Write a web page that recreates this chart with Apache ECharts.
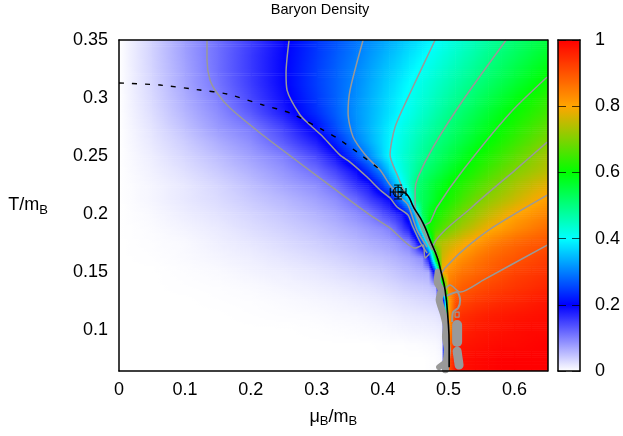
<!DOCTYPE html>
<html><head><meta charset="utf-8">
<style>html,body{margin:0;padding:0;background:#fff}#c{width:623px;height:436px}</style>
<script src="https://cdn.jsdelivr.net/npm/echarts@6/dist/echarts.min.js"></script>
</head><body><div id="c"></div>
<script>
const paletteColors = ['#ffffff','#0000ff','#00ffff','#00ff00','#ffa500','#ff0000'];
const xTickValues = [0,0.1,0.2,0.3,0.4,0.5,0.6];
const yTickValues = [0.1,0.15,0.2,0.25,0.3,0.35];
const muNodes = [0,.05,.1,.15,.2,.25,.3,.33,.36,.38,.40,.41,.42,.43,.44,.45,.46,.47,.48,.49,.50,.51,.52,.54,.56,.58,.60,.625,.65];
const tNodes = [.35,.3375,.325,.3125,.30,.2875,.275,.2625,.25,.2375,.225,.2125,.20,.1875,.175,.1625,.15,.1375,.125,.1125,.10,.0875,.075,.065];
const density = [
[0,.035,.075,.112,.15,.194,.24,.265,.292,.31,.327,.336,.345,.354,.363,.372,.381,.391,.40,.409,.419,.428,.437,.456,.475,.493,.511,.532,.553],
[0,.035,.075,.113,.155,.197,.244,.272,.298,.318,.337,.347,.356,.366,.376,.385,.395,.405,.414,.424,.433,.442,.452,.47,.49,.509,.526,.548,.57],
[0,.034,.072,.113,.155,.198,.248,.276,.305,.326,.347,.357,.367,.377,.388,.398,.408,.417,.427,.437,.447,.456,.466,.485,.505,.524,.543,.567,.59],
[0,.032,.07,.108,.153,.197,.249,.278,.309,.332,.355,.366,.377,.389,.40,.41,.42,.43,.44,.45,.46,.47,.48,.50,.52,.54,.56,.585,.61],
[0,.03,.065,.10,.145,.19,.244,.278,.313,.337,.361,.373,.385,.397,.408,.419,.43,.44,.452,.463,.474,.485,.496,.518,.54,.562,.584,.61,.635],
[0,.026,.058,.09,.13,.18,.236,.276,.317,.34,.365,.377,.389,.401,.414,.427,.44,.452,.465,.477,.49,.502,.514,.537,.56,.583,.605,.628,.652],
[0,.022,.05,.08,.105,.15,.212,.264,.313,.342,.372,.387,.402,.416,.429,.442,.455,.468,.481,.494,.506,.519,.531,.555,.578,.602,.622,.648,.676],
[0,.018,.04,.065,.09,.13,.18,.233,.30,.337,.374,.392,.41,.424,.439,.454,.469,.483,.498,.51,.522,.535,.547,.573,.598,.621,.643,.671,.70],
[0,.014,.032,.052,.075,.10,.145,.19,.26,.31,.368,.397,.415,.432,.449,.466,.483,.50,.514,.529,.543,.557,.571,.60,.623,.647,.671,.70,.73],
[0,.011,.025,.042,.062,.085,.115,.15,.195,.25,.315,.358,.40,.426,.452,.478,.504,.52,.535,.551,.567,.582,.598,.624,.65,.675,.70,.722,.745],
[0,.008,.018,.032,.05,.07,.09,.115,.16,.185,.25,.295,.35,.40,.453,.505,.525,.545,.565,.58,.60,.614,.627,.654,.681,.705,.73,.755,.78],
[0,.008,.018,.028,.042,.056,.074,.09,.118,.15,.178,.195,.248,.31,.39,.505,.53,.55,.575,.60,.617,.634,.652,.686,.712,.735,.757,.785,.81],
[0,.005,.014,.022,.033,.045,.06,.072,.09,.105,.135,.15,.165,.185,.24,.375,.53,.575,.61,.63,.65,.67,.69,.72,.75,.775,.80,.82,.84],
[0,.003,.009,.016,.026,.036,.048,.058,.07,.08,.09,.10,.12,.15,.18,.28,.45,.61,.64,.665,.69,.71,.73,.76,.79,.81,.83,.85,.87],
[0,.002,.005,.012,.019,.028,.038,.046,.055,.063,.07,.074,.08,.09,.10,.155,.25,.47,.72,.74,.755,.77,.785,.815,.84,.86,.875,.89,.90],
[0,.001,.004,.008,.013,.02,.028,.034,.042,.047,.052,.056,.06,.065,.07,.08,.09,.20,.60,.76,.79,.81,.825,.85,.87,.885,.895,.91,.925],
[0,0,.002,.004,.009,.013,.019,.024,.03,.034,.038,.042,.046,.05,.054,.058,.062,.065,.25,.80,.83,.845,.86,.875,.89,.905,.92,.93,.94],
[0,0,.001,.002,.004,.008,.012,.015,.019,.022,.026,.029,.032,.035,.038,.04,.042,.045,.055,.50,.85,.87,.885,.90,.915,.925,.935,.945,.955],
[0,0,0,.001,.002,.004,.007,.009,.012,.014,.017,.019,.021,.023,.025,.027,.029,.031,.033,.04,.80,.90,.915,.93,.94,.95,.955,.965,.975],
[0,0,0,0,.001,.002,.003,.005,.006,.008,.01,.011,.012,.014,.015,.016,.017,.018,.02,.025,.80,.93,.945,.955,.965,.97,.975,.98,.985],
[0,0,0,0,0,0,.001,.002,.003,.004,.005,.006,.007,.008,.009,.01,.01,.011,.012,.015,.80,.95,.96,.97,.975,.98,.985,.99,.99],
[0,0,0,0,0,0,0,0,0,0,.001,.001,.001,.001,.002,.002,.003,.004,.005,.01,.85,.97,.975,.98,.985,.99,.99,.995,1],
[0,0,0,0,0,0,0,0,0,0,0,0,0,0,0,0,0,.001,.002,.006,.90,.98,.985,.99,.995,1,1,1,1],
[0,0,0,0,0,0,0,0,0,0,0,0,0,0,0,0,0,.001,.003,.01,.90,.98,.985,.99,.995,1,1,1,1]
];
const contour01 = [[.1335,.35],[.1335,.3328],[.138,.3155],[.1487,.3044],[.1684,.2914],[.214,.2699],[.264,.2484],[.3354,.2182],[.3809,.1993],[.4112,.1881],[.4492,.1708],[.4613,.1734],[.4643,.1622],[.4719,.1665]];
const contour02 = [[.258,.35],[.2534,.3216],[.2549,.3069],[.2747,.2854],[.2898,.2768],[.3096,.2665],[.3354,.2509],[.3505,.2449],[.3763,.232],[.3961,.2208],[.4112,.2139],[.4218,.2062],[.4385,.1993],[.4446,.1907],[.4568,.176],[.4674,.1665]];
const contour03 = [[.3703,.35],[.3505,.3069],[.3475,.2871],[.3551,.2665],[.3763,.2492],[.3961,.238],[.4112,.2251],[.4264,.2148],[.4385,.2079],[.4522,.1863],[.4674,.1717]];
const contour04 = [[.4795,.35],[.4416,.3044],[.4188,.2751],[.4112,.2509],[.4234,.232],[.4294,.2234],[.4416,.2122],[.4613,.1846],[.475,.1691]];
const contour05 = [[.5873,.35],[.522,.2983],[.4765,.2578],[.4537,.232],[.4492,.2208],[.4492,.2053],[.4568,.195],[.4674,.182],[.481,.1674]];
const contour06 = [[.6495,.3181],[.5933,.2871],[.522,.238],[.4825,.2062],[.4719,.1932],[.4628,.1898],[.4825,.164]];
const contour07 = [[.6495,.2621],[.6009,.238],[.5357,.2062],[.4765,.1717],[.484,.1622]];
const contour08 = [[.6495,.2165],[.5675,.1889],[.522,.1691],[.4947,.1536],[.4886,.1484]];
const contour09 = [[.6495,.1734],[.5524,.1433],[.5175,.133],[.5023,.139],[.4962,.1364],[.4932,.1295]];
const contourLoop = [[.4962,.1295],[.5129,.133],[.5175,.126],[.5144,.1192],[.5068,.1157],[.5053,.1071]];
const contourRing = [[.5098,.1157],[.5159,.1157],[.5159,.1114],[.5098,.1114],[.5098,.1157]];
const noiseEdge = [[.4841,.1502],[.4826,.1415],[.4886,.1347],[.4856,.1265],[.4917,.1149],[.4962,.1028],[.4952,.0945],[.4982,.083],[.4962,.0727],[.4952,.066]];
const noiseFoot = [[.4932,.0715],[.4856,.0683]];
const noiseBlobA = [[.5129,.1045],[.5129,.0899]];
const noiseBlobB = [[.5129,.0821],[.5159,.0701]];
const transitionLine = [[.4234,.2194],[.434,.2182],[.4476,.2053],[.4613,.1924],[.4719,.1777],[.4825,.1631],[.4886,.1502],[.4947,.1347],[.4992,.1088],[.5008,.0873],[.5008,.0683]];
const freezeoutLine = [[0,.313],[.0622,.3112],[.1229,.3069],[.1639,.3035],[.2185,.294],[.2595,.2871],[.3096,.2725],[.3308,.2656],[.3612,.2535],[.393,.2397]];
const criticalPoint = [.4234,.2191,.012,.006];

const cells = [];
for (let j = 0; j < tNodes.length - 1; j++) for (let i = 0; i < muNodes.length - 1; i++)
  cells.push([muNodes[i], tNodes[j], density[j][i], i, j]);

const lerpC = v => echarts.color.lerp(Math.max(0, Math.min(1, v)), paletteColors);
const STRIPS = 7, STOPS = 7;
function renderCell(params, api) {
  const i = api.value(3), j = api.value(4);
  const a = api.coord([muNodes[i], tNodes[j]]), b = api.coord([muNodes[i+1], tNodes[j+1]]);
  const w = b[0] - a[0], h = b[1] - a[1], children = [];
  for (let s = 0; s < STRIPS; s++) {
    const t = (s + .5) / STRIPS;
    const vl = density[j][i] * (1-t) + density[j+1][i] * t;
    const vr = density[j][i+1] * (1-t) + density[j+1][i+1] * t;
    const colorStops = [];
    for (let k = 0; k < STOPS; k++) {
      const u = k / (STOPS - 1);
      colorStops.push({offset: u, color: lerpC(vl * (1-u) + vr * u)});
    }
    children.push({type:'rect', shape:{x:a[0], y:a[1] + h*s/STRIPS, width:w+.6, height:h/STRIPS+.6},
      style:{fill:{type:'linear',x:0,y:0,x2:1,y2:0,colorStops}}, silent:true});
  }
  return {type:'group', children};
}
function renderPoint(params, api) {
  const c = api.coord([api.value(0), api.value(1)]);
  const l = api.coord([api.value(0)-api.value(2), api.value(1)]), r = api.coord([api.value(0)+api.value(2), api.value(1)]);
  const t = api.coord([api.value(0), api.value(1)+api.value(3)]), d = api.coord([api.value(0), api.value(1)-api.value(3)]);
  const st = {stroke:'#000', lineWidth:1, fill:null};
  const ln = (x1,y1,x2,y2) => ({type:'line', shape:{x1,y1,x2,y2}, style:st, silent:true});
  return {type:'group', children:[
    {type:'circle', shape:{cx:c[0], cy:c[1], r:5}, style:st, silent:true},
    ln(l[0],l[1],r[0],r[1]), ln(t[0],t[1],d[0],d[1]),
    ln(l[0],l[1]-4,l[0],l[1]+4), ln(r[0],r[1]-4,r[0],r[1]+4),
    ln(t[0]-4,t[1],t[0]+4,t[1]), ln(d[0]-4,d[1],d[0]+4,d[1]),
    ln(c[0]-3,c[1]-5,c[0]-3,c[1]+5), ln(c[0]+3,c[1]-5,c[0]+3,c[1]+5)
  ]};
}
const line = (data, color, width, extra) => Object.assign({type:'line', data, showSymbol:false, silent:true, animation:false,
  clip:true, z:5, smooth:.25, lineStyle:{color, width}}, extra||{});
const gray = '#999999';
const font = 'Liberation Sans';
const subRich = {a:{fontFamily:font,fontSize:18,color:'#000',lineHeight:22}, s:{fontFamily:font,fontSize:13,color:'#000',verticalAlign:'bottom',padding:[8,0,0,0],lineHeight:22}};
const G = {left:119, top:40, width:428.5, height:331, outerBoundsMode:'none'};
const C = {left:558, top:40, width:22, height:331, outerBoundsMode:'none'};
const frame = {show:true, onZero:false, lineStyle:{color:'#000', width:1.5}};
const option = {
  backgroundColor:'#fff', animation:false,
  title:{text:'Baryon Density', left:320, top:2, padding:0, textAlign:'center', textStyle:{fontFamily:font,fontSize:14.5,fontWeight:'normal',color:'#000'}},
  grid:[G, C],
  xAxis:[
    {type:'value',gridIndex:0,min:0,max:.65,position:'bottom',z:20,axisLine:frame,axisTick:{show:false},splitLine:{show:false},
     axisLabel:{customValues:xTickValues,fontFamily:font,fontSize:18,color:'#000',margin:10},
     name:'{a|μ}{s|B}{a|/m}{s|B}',nameLocation:'middle',nameGap:35,nameTextStyle:{rich:subRich}},
    {type:'value',gridIndex:0,min:0,max:.65,position:'top',z:20,axisLine:frame,axisTick:{show:false},axisLabel:{show:false},splitLine:{show:false}},
    {type:'value',gridIndex:1,min:0,max:1,position:'bottom',z:20,axisLine:frame,axisTick:{show:false},axisLabel:{show:false},splitLine:{show:false}},
    {type:'value',gridIndex:1,min:0,max:1,position:'top',z:20,axisLine:frame,axisTick:{show:false},axisLabel:{show:false},splitLine:{show:false}}
  ],
  yAxis:[
    {type:'value',gridIndex:0,min:.065,max:.35,position:'left',z:20,axisLine:frame,axisTick:{show:false},splitLine:{show:false},
     axisLabel:{customValues:yTickValues,fontFamily:font,fontSize:18,color:'#000',margin:11},
     name:'{a|T/m}{s|B}',nameLocation:'middle',nameRotate:0,nameGap:71,nameTextStyle:{rich:subRich}},
    {type:'value',gridIndex:0,min:.065,max:.35,position:'right',z:20,axisLine:frame,axisTick:{show:false},axisLabel:{show:false},splitLine:{show:false}},
    {type:'value',gridIndex:1,min:0,max:1,interval:.2,position:'right',z:20,axisLine:frame,splitLine:{show:false},
     axisTick:{show:true,inside:true,length:8,lineStyle:{color:'#000',width:1,opacity:.7}},
     axisLabel:{fontFamily:font,fontSize:18,color:'#000',margin:15}},
    {type:'value',gridIndex:1,min:0,max:1,interval:.2,position:'left',z:20,axisLine:frame,splitLine:{show:false},
     axisTick:{show:true,inside:true,length:8,lineStyle:{color:'#000',width:1,opacity:.7}},axisLabel:{show:false}}
  ],
  visualMap:{type:'continuous',min:0,max:1,dimension:2,seriesIndex:0,orient:'vertical',left:C.left,top:C.top,padding:0,
    itemWidth:C.width,itemHeight:C.height,calculable:false,text:null,showLabel:false,inRange:{color:paletteColors},z:1},
  series:[
    {type:'custom',xAxisIndex:0,yAxisIndex:0,data:cells,renderItem:renderCell,encode:{x:0,y:1},silent:true,progressive:0,animation:false,clip:true,z:1},
    line(contour01,gray,1.5), line(contour02,gray,1.5), line(contour03,gray,1.5), line(contour04,gray,1.5),
    line(contour05,gray,1.5), line(contour06,gray,1.5), line(contour07,gray,1.5), line(contour08,gray,1.5),
    line(contour09,gray,1.5), line(contourLoop,gray,2), line(contourRing,gray,1.2),
    line(noiseEdge,gray,7,{lineStyle:{color:gray,width:7,cap:'round',join:'round'}}),
    line(noiseFoot,gray,6,{lineStyle:{color:gray,width:6,cap:'round'}}),
    line(noiseBlobA,gray,10,{lineStyle:{color:gray,width:10,cap:'round'}}),
    line(noiseBlobB,gray,9,{lineStyle:{color:gray,width:9,cap:'round'}}),
    line(transitionLine,'#000',1.6,{smooth:.5,z:7}),
    line(freezeoutLine,'#000',1.4,{z:7,lineStyle:{color:'#000',width:1.4,type:[5,8]}}),
    {type:'custom',data:[criticalPoint],renderItem:renderPoint,encode:{x:0,y:1},silent:true,animation:false,z:8}
  ]
};
echarts.init(document.getElementById('c'),null,{renderer:'canvas'}).setOption(option);
</script></body></html>
